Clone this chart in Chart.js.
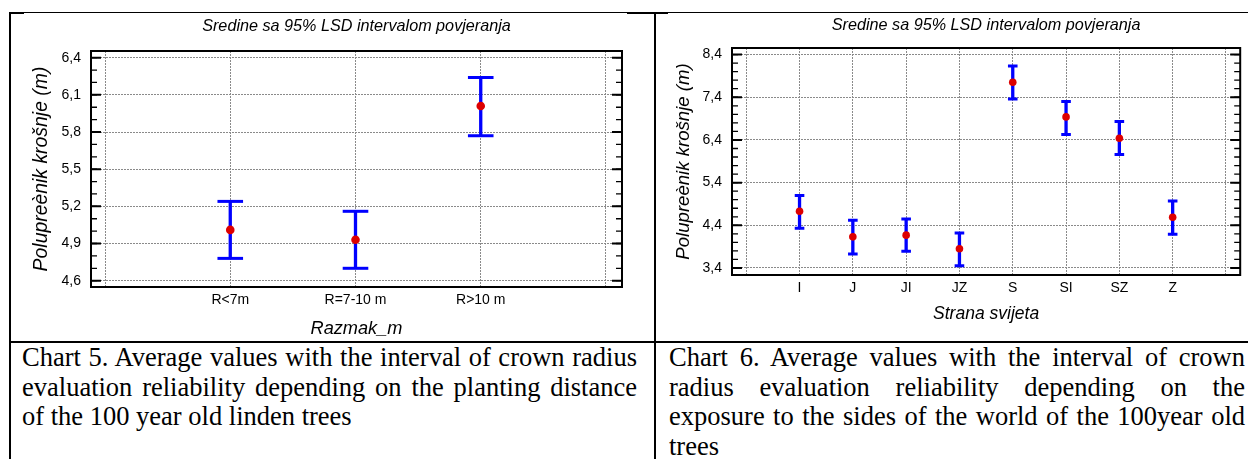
<!DOCTYPE html>
<html><head><meta charset="utf-8">
<script src="https://cdn.jsdelivr.net/npm/chart.js@4/dist/chart.umd.min.js"></script>
<style>
html,body{margin:0;padding:0;background:#fff;}
body{width:1248px;height:459px;overflow:hidden;position:relative;}
.ln{position:absolute;background:#000;}
canvas{position:absolute;}
.cap{position:absolute;margin:0;font-family:"Liberation Serif","Times New Roman",serif;font-size:26.5px;line-height:29.5px;text-align:justify;color:#000;}
</style></head><body>
<div class="ln" style="left:9px;top:12px;width:1239px;height:1px"></div>
<div class="ln" style="left:10px;top:12px;width:14px;height:2px"></div>
<div class="ln" style="left:627px;top:12px;width:41px;height:2px"></div>
<div class="ln" style="left:9px;top:12px;width:2px;height:447px"></div>
<div class="ln" style="left:654px;top:12px;width:2px;height:447px"></div>
<div class="ln" style="left:9px;top:341px;width:1239px;height:2px"></div>
<canvas id="c1" width="643" height="328" style="left:11px;top:13px"></canvas>
<canvas id="c2" width="592" height="328" style="left:656px;top:13px"></canvas>
<p class="cap" style="left:22px;top:343px;width:615px">Chart 5. Average values with the interval of crown radius evaluation reliability depending on the planting distance of the 100 year old linden trees</p>
<p class="cap" style="left:669px;top:343px;width:576px">Chart 6. Average values with the interval of crown radius evaluation reliability depending on the exposure to the sides of the world of the 100year old trees</p>
<script>
// ---- data ----
const chartTitle = 'Sredine sa 95% LSD intervalom povjeranja';
const yAxisTitle = 'Polupreènik krošnje (m)';

const leftXTitle = 'Razmak_m';
const leftCategories = ['R<7m', 'R=7-10 m', 'R>10 m'];
const leftMeans = [5.01, 4.93, 6.01];
const leftLower = [4.78, 4.70, 5.77];
const leftUpper = [5.24, 5.16, 6.24];
const leftYTicks = [4.6, 4.9, 5.2, 5.5, 5.8, 6.1, 6.4];
const leftMinorStep = 0.1;

const rightXTitle = 'Strana svijeta';
const rightCategories = ['I', 'J', 'JI', 'JZ', 'S', 'SI', 'SZ', 'Z'];
const rightMeans = [4.73, 4.13, 4.17, 3.85, 7.75, 6.94, 6.44, 4.59];
const rightLower = [4.33, 3.73, 3.79, 3.45, 7.36, 6.53, 6.06, 4.19];
const rightUpper = [5.10, 4.52, 4.55, 4.22, 8.13, 7.30, 6.83, 4.97];
const rightYTicks = [3.4, 4.4, 5.4, 6.4, 7.4, 8.4];
const rightMinorStep = 0.2;

// ---- drawing ----
const SANS = '"Liberation Sans", Arial, sans-serif';
const BLUE = '#0000ff';
const RED = '#dd0000';
const GRID = '#8a8a8a';

const innerTicks = {
  id: 'innerTicks',
  afterDraw(chart, args, opts) {
    const {ctx, chartArea: a, scales: {y}} = chart;
    ctx.save();
    ctx.strokeStyle = '#000';
    const step = opts.minorStep;
    const first = Math.ceil(y.min / step - 1e-6);
    const last = Math.floor(y.max / step + 1e-6);
    ctx.lineWidth = 1.3;
    for (let k = first; k <= last; k++) {
      const py = y.getPixelForValue(k * step);
      ctx.beginPath();
      ctx.moveTo(a.left, py); ctx.lineTo(a.left + 6, py);
      ctx.moveTo(a.right, py); ctx.lineTo(a.right - 6, py);
      ctx.stroke();
    }
    ctx.lineWidth = 2;
    y.ticks.forEach(t => {
      const py = y.getPixelForValue(t.value);
      ctx.beginPath();
      ctx.moveTo(a.left, py); ctx.lineTo(a.left + 10, py);
      ctx.moveTo(a.right, py); ctx.lineTo(a.right - 10, py);
      ctx.stroke();
    });
    ctx.lineWidth = 2;
    ctx.strokeRect(a.left, a.top, a.right - a.left, a.bottom - a.top);
    ctx.restore();
  }
};

function makeChart(id, c) {
  const n = c.categories.length;
  const xs = c.categories.map((_, i) => i + 1);
  const xTickValues = Array.from({length: n + 2}, (_, i) => i);
  const whiskers = [];
  const caps = [];
  xs.forEach((x, i) => {
    whiskers.push({x, y: c.lower[i]}, {x, y: c.upper[i]}, {x, y: null});
    caps.push({x, y: c.lower[i]}, {x, y: c.upper[i]});
  });
  const means = xs.map((x, i) => ({x, y: c.means[i]}));
  const gridOpts = {color: GRID, lineWidth: 1, drawTicks: false};
  const borderOpts = {display: false, dash: [2, 1]};
  return new Chart(document.getElementById(id), {
    type: 'scatter',
    data: {datasets: [
      {data: means, pointStyle: 'circle', pointRadius: c.dotR, pointBackgroundColor: RED, pointBorderWidth: 0, showLine: false},
      {data: caps, pointStyle: 'line', pointRadius: c.capHalf, pointBorderColor: BLUE, pointBorderWidth: 3, showLine: false},
      {data: whiskers, showLine: true, spanGaps: false, pointRadius: 0, borderColor: BLUE, borderWidth: 3.3}
    ]},
    options: {
      responsive: false, animation: false, events: [],
      layout: {padding: {left: 0, right: c.padRight, top: 0, bottom: 0}},
      plugins: {legend: {display: false}, tooltip: {enabled: false}, innerTicks: {minorStep: c.minorStep}},
      scales: {
        x: {
          type: 'linear', position: 'bottom', min: c.xMin, max: c.xMax,
          afterBuildTicks: s => { s.ticks = xTickValues.map(v => ({value: v})); },
          afterFit: s => { s.height = c.bottomH; },
          ticks: {callback: v => c.categories[v - 1] ?? '', font: {family: SANS, size: c.tickSize}, color: '#000', padding: 5, maxRotation: 0, autoSkip: false},
          grid: gridOpts, border: borderOpts,
          title: {display: true, text: c.xTitle, color: '#000', font: {family: SANS, size: c.xTitleSize, style: 'italic'}, padding: {top: 0, bottom: c.xTitlePad}}
        },
        x2: {
          type: 'linear', position: 'top', min: c.xMin, max: c.xMax,
          afterFit: s => { s.height = c.topH; },
          ticks: {display: false}, grid: {display: false, drawTicks: false}, border: {display: false},
          title: {display: true, text: chartTitle, color: '#000', font: {family: SANS, size: 16.2, style: 'italic'}, padding: {top: c.titlePad, bottom: 0}}
        },
        y: {
          type: 'linear', position: 'left', min: c.yMin, max: c.yMax,
          afterBuildTicks: s => { s.ticks = c.yTicks.map(v => ({value: v})); },
          afterFit: s => { s.width = c.leftW; },
          ticks: {callback: v => v.toFixed(1).replace('.', ','), font: {family: SANS, size: c.tickSize}, color: '#000', padding: 10},
          grid: gridOpts, border: borderOpts,
          title: {display: true, text: yAxisTitle, color: '#000', font: {family: SANS, size: c.yTitleSize, style: 'italic'}, padding: {top: c.yTitlePad, bottom: 0}}
        }
      }
    },
    plugins: [innerTicks]
  });
}

makeChart('c1', {
  categories: leftCategories, means: leftMeans, lower: leftLower, upper: leftUpper,
  yTicks: leftYTicks, minorStep: leftMinorStep, xTitle: leftXTitle,
  xMin: -0.112, xMax: 4.128, yMin: 4.549, yMax: 6.454,
  leftW: 80, topH: 38, bottomH: 54, padRight: 32,
  tickSize: 14, yTitleSize: 19.4, xTitleSize: 18.2,
  yTitlePad: 18.6, xTitlePad: 1.6, titlePad: 4,
  dotR: 4.3, capHalf: 12.8
});

makeChart('c2', {
  categories: rightCategories, means: rightMeans, lower: rightLower, upper: rightUpper,
  yTicks: rightYTicks, minorStep: rightMinorStep, xTitle: rightXTitle,
  xMin: -0.267, xMax: 9.267, yMin: 3.236, yMax: 8.554,
  leftW: 76, topH: 35, bottomH: 66, padRight: 2,
  tickSize: 14, yTitleSize: 18.6, xTitleSize: 17.5,
  yTitlePad: 16.3, xTitlePad: 16.6, titlePad: 2.3,
  dotR: 3.8, capHalf: 4.8
});
</script>
</body></html>
